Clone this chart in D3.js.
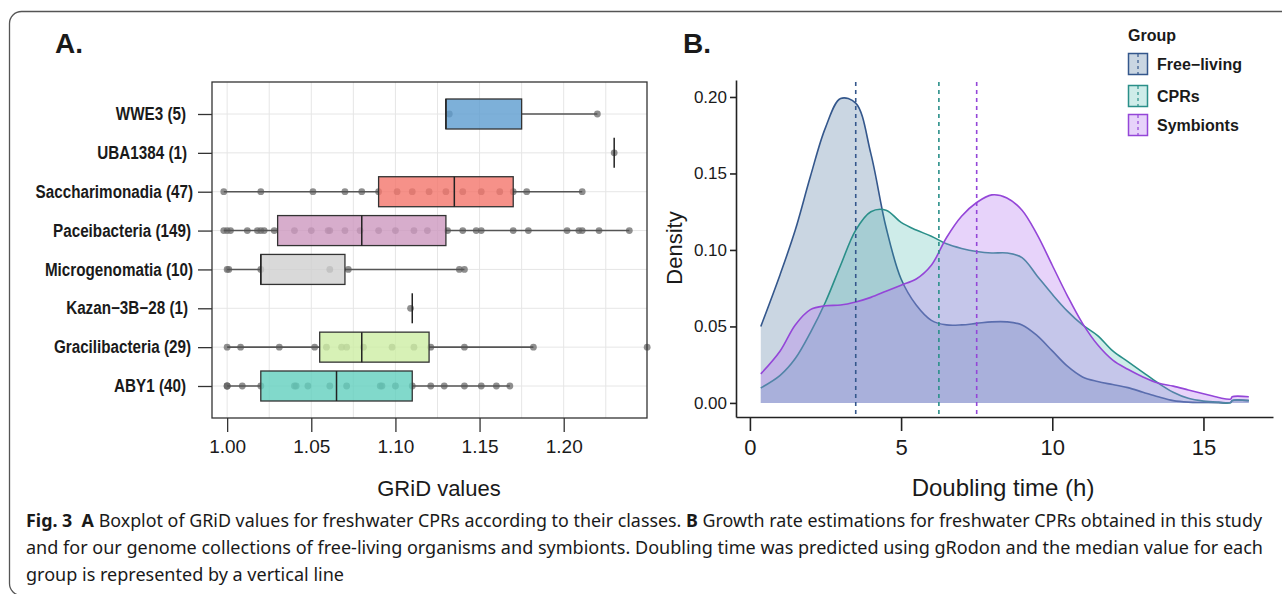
<!DOCTYPE html>
<html>
<head>
<meta charset="utf-8">
<script src="https://cdn.jsdelivr.net/npm/d3@7"></script>
<style>
body { margin: 0; background: #fff; }
text { font-family: "Liberation Sans", Arial, sans-serif; fill: #1a1a1a; }
</style>
</head>
<body>
<svg id="fig" width="1282" height="594"></svg>
<script>
// ---------- panel A: GRiD values per class ----------
var groups = ["WWE3", "UBA1384", "Saccharimonadia", "Paceibacteria", "Microgenomatia", "Kazan−3B−28", "Gracilibacteria", "ABY1"]
var counts = [5, 1, 47, 149, 10, 1, 29, 40]
var q1 = [1.130, 1.230, 1.090, 1.030, 1.020, 1.110, 1.055, 1.020]
var medians = [1.130, 1.230, 1.135, 1.080, 1.020, 1.110, 1.080, 1.065]
var q3 = [1.175, 1.230, 1.170, 1.130, 1.070, 1.110, 1.120, 1.110]
var whiskerLow = [1.130, 1.230, 0.998, 0.998, 1.000, 1.110, 1.000, 1.000]
var whiskerHigh = [1.220, 1.230, 1.211, 1.239, 1.141, 1.110, 1.182, 1.168]
var points = [
    [1.132, 1.220],
    [1.230],
    [0.998, 1.020, 1.051, 1.070, 1.080, 1.090, 1.101, 1.110, 1.120, 1.130, 1.140, 1.151, 1.162, 1.170, 1.178, 1.211],
    [0.998, 1.000, 1.002, 1.012, 1.018, 1.020, 1.022, 1.028, 1.040, 1.050, 1.060, 1.061, 1.070, 1.079, 1.090, 1.100,
     1.111, 1.119, 1.131, 1.140, 1.148, 1.151, 1.170, 1.179, 1.202, 1.209, 1.211, 1.221, 1.239],
    [1.000, 1.001, 1.020, 1.061, 1.072, 1.138, 1.141],
    [1.109],
    [1.000, 1.008, 1.031, 1.052, 1.059, 1.068, 1.071, 1.081, 1.098, 1.111, 1.121, 1.141, 1.182, 1.2496],
    [1.000, 1.000, 1.000, 1.009, 1.020, 1.040, 1.041, 1.048, 1.061, 1.071, 1.091, 1.092, 1.100, 1.110, 1.121, 1.129,
     1.141, 1.151, 1.160, 1.168]
]
var boxColors = ["#5d9ccf", "#5d9ccf", "#f4766b", "#cd98bf", "#cfcfcf", "#999999", "#cdeda4", "#62cfbe"]
var gridTicks = [1.00, 1.05, 1.10, 1.15, 1.20]

// ---------- panel B: doubling time densities ----------
var densGroups = ["Free−living", "CPRs", "Symbionts"]
var doublingTime = [0.36, 1.0, 1.5, 2.0, 2.5, 3.0, 3.5, 4.0, 4.5, 5.0, 5.5, 6.0, 6.5, 7.0, 7.5, 8.0, 8.5, 9.0, 9.5,
    10.0, 10.5, 11.0, 11.5, 12.0, 12.5, 13.0, 13.5, 14.0, 14.5, 15.0, 15.5, 15.9, 15.95, 16.5]
var densFree = [0.050, 0.084, 0.113, 0.148, 0.180, 0.199, 0.196, 0.163, 0.115, 0.081, 0.064, 0.054, 0.051, 0.051, 0.052,
    0.053, 0.053, 0.051, 0.044, 0.034, 0.024, 0.017, 0.014, 0.012, 0.010, 0.007, 0.004, 0.0015, 0.0005, 0.0003, 0.0002,
    0.0002, 0.0015, 0.0015]
var densCPR = [0.0098, 0.018, 0.029, 0.046, 0.066, 0.090, 0.113, 0.125, 0.126, 0.118, 0.113, 0.109, 0.104, 0.101, 0.099,
    0.098, 0.098, 0.095, 0.083, 0.071, 0.060, 0.051, 0.044, 0.034, 0.027, 0.020, 0.013, 0.007, 0.003, 0.0012, 0.0005,
    0.0003, 0.0016, 0.0016]
var densSymb = [0.019, 0.034, 0.051, 0.061, 0.0635, 0.064, 0.066, 0.069, 0.073, 0.077, 0.081, 0.090, 0.108, 0.122, 0.131,
    0.136, 0.134, 0.126, 0.110, 0.090, 0.070, 0.052, 0.038, 0.028, 0.022, 0.017, 0.013, 0.011, 0.0085, 0.006, 0.0035,
    0.0025, 0.004, 0.004]
var medianDoubling = [3.5, 6.25, 7.5]
var lineColors = ["#34578c", "#2a8f89", "#9446d8"]
var fillColors = ["#2c5a8c", "#3bb3a8", "#b06ef0"]
var fillAlpha = [0.25, 0.25, 0.3]

var svg = d3.select("#fig")

// outer frame of the figure
svg.append("rect")
    .attr("x", 9.5).attr("y", 11.5)
    .attr("width", 1310).attr("height", 584)
    .attr("rx", 12)
    .attr("fill", "none")
    .attr("stroke", "#555")
    .attr("stroke-width", 1.3)

// ===== panel A =====
var xA = d3.scaleLinear().domain([0.991, 1.2495]).range([212, 647])
var yA = d3.scalePoint().domain(groups).range([114, 386])
var pA = { left: 212, right: 647, top: 82, bottom: 418 }

svg.append("text").text("A.")
    .attr("x", 55).attr("y", 53)
    .style("font-size", "28px").style("font-weight", "bold")

var gA = svg.append("g")

// grid (major + minor)
var minor = [1.025, 1.075, 1.125, 1.175, 1.225]
gA.selectAll(".vgrid")
    .data(gridTicks.concat(minor))
    .enter().append("line")
    .attr("x1", d => xA(d)).attr("x2", d => xA(d))
    .attr("y1", pA.top).attr("y2", pA.bottom)
    .attr("stroke", "#e6e6e6")
    .attr("stroke-width", 1)
gA.selectAll(".hgrid")
    .data(groups)
    .enter().append("line")
    .attr("x1", pA.left).attr("x2", pA.right)
    .attr("y1", d => yA(d)).attr("y2", d => yA(d))
    .attr("stroke", "#e6e6e6")
    .attr("stroke-width", 1)

// jittered points (under the boxes)
groups.forEach(function (g, i) {
    gA.selectAll(".pt" + i)
        .data(points[i])
        .enter().append("circle")
        .attr("cx", d => xA(d))
        .attr("cy", yA(g))
        .attr("r", 3.4)
        .attr("fill", "#6a6a6a")
        .attr("fill-opacity", 0.75)
})

// boxes
var boxH = 30
groups.forEach(function (g, i) {
    var y = yA(g)
    gA.append("line")
        .attr("x1", xA(whiskerLow[i])).attr("x2", xA(q1[i]))
        .attr("y1", y).attr("y2", y)
        .attr("stroke", "#555").attr("stroke-width", 1.6)
    gA.append("line")
        .attr("x1", xA(q3[i])).attr("x2", xA(whiskerHigh[i]))
        .attr("y1", y).attr("y2", y)
        .attr("stroke", "#555").attr("stroke-width", 1.6)
    gA.append("rect")
        .attr("x", xA(q1[i]))
        .attr("y", y - boxH / 2)
        .attr("width", xA(q3[i]) - xA(q1[i]))
        .attr("height", boxH)
        .attr("fill", boxColors[i])
        .attr("fill-opacity", 0.8)
        .attr("stroke", "#333")
        .attr("stroke-width", 1.3)
    gA.append("line")
        .attr("x1", xA(medians[i])).attr("x2", xA(medians[i]))
        .attr("y1", y - boxH / 2).attr("y2", y + boxH / 2)
        .attr("stroke", "#222").attr("stroke-width", 1.5)
})

// panel border
gA.append("rect")
    .attr("x", pA.left).attr("y", pA.top)
    .attr("width", pA.right - pA.left).attr("height", pA.bottom - pA.top)
    .attr("fill", "none")
    .attr("stroke", "#333")
    .attr("stroke-width", 1.3)

// axes
var axA = svg.append("g")
    .attr("transform", "translate(0," + pA.bottom + ")")
    .call(d3.axisBottom(xA).tickValues(gridTicks).tickFormat(d3.format(".2f")).tickSize(14).tickPadding(8))
axA.select(".domain").remove()
axA.selectAll("line").attr("stroke", "#333").attr("stroke-width", 1.3)
axA.selectAll("text").style("font-size", "19px").attr("fill", "#222")

var labelsA = groups.map((g, i) => g + " (" + counts[i] + ")")
var ayA = svg.append("g")
    .attr("transform", "translate(" + pA.left + ",0)")
    .call(d3.axisLeft(yA).tickFormat((d, i) => labelsA[i]).tickSize(14).tickPadding(5))
ayA.select(".domain").remove()
ayA.selectAll("line").attr("stroke", "#333").attr("stroke-width", 1.3)
ayA.selectAll("text")
    .style("font-size", "17.5px").style("font-weight", "bold").attr("fill", "#111")
    .attr("dx", (d, i) => [-7, -6, 0, -2, 0, -5, -2, -7][i])
    .each(function () {
        // the original uses a narrow bold face
        var w = this.getComputedTextLength()
        d3.select(this).attr("textLength", w * 0.87).attr("lengthAdjust", "spacingAndGlyphs")
    })

svg.append("text").text("GRiD values")
    .attr("x", 439).attr("y", 496)
    .attr("text-anchor", "middle")
    .style("font-size", "22px")

// ===== panel B =====
var xB = d3.scaleLinear().domain([-0.46, 17.3]).range([736, 1273])
var yB = d3.scaleLinear().domain([-0.0092, 0.2111]).range([417, 80])

svg.append("text").text("B.")
    .attr("x", 683).attr("y", 53)
    .style("font-size", "28px").style("font-weight", "bold")

var series = [densFree, densCPR, densSymb]
var area = d3.area()
    .x((d, i) => xB(doublingTime[i]))
    .y0(yB(0))
    .y1(d => yB(d))
    .curve(d3.curveCatmullRom.alpha(0.5))
var line = d3.line()
    .x((d, i) => xB(doublingTime[i]))
    .y(d => yB(d))
    .curve(d3.curveCatmullRom.alpha(0.5))

var gB = svg.append("g")
series.forEach(function (s, k) {
    gB.append("path")
        .attr("d", area(s))
        .attr("fill", fillColors[k])
        .attr("fill-opacity", fillAlpha[k])
    gB.append("path")
        .attr("d", line(s))
        .attr("fill", "none")
        .attr("stroke", lineColors[k])
        .attr("stroke-width", 1.6)
})

// median lines
gB.selectAll(".med")
    .data(medianDoubling)
    .enter().append("line")
    .attr("x1", d => xB(d)).attr("x2", d => xB(d))
    .attr("y1", 82).attr("y2", 417)
    .attr("stroke", (d, i) => lineColors[i])
    .attr("stroke-width", 1.6)
    .attr("stroke-dasharray", "4,4")

var axB = svg.append("g")
    .attr("transform", "translate(0,417)")
    .call(d3.axisBottom(xB).tickValues([0, 5, 10, 15]).tickSize(14).tickSizeOuter(0).tickPadding(8))
axB.select(".domain").attr("stroke", "#222").attr("stroke-width", 1.6)
axB.selectAll("line").attr("stroke", "#222").attr("stroke-width", 1.6)
axB.selectAll("text").style("font-size", "22px").attr("fill", "#222")

var ayB = svg.append("g")
    .attr("transform", "translate(736,0)")
    .call(d3.axisLeft(yB).tickValues([0, 0.05, 0.1, 0.15, 0.2]).tickFormat(d3.format(".2f")).tickSize(6).tickSizeOuter(0).tickPadding(3))
ayB.select(".domain").attr("stroke", "#222").attr("stroke-width", 1.6)
ayB.selectAll("line").attr("stroke", "#222").attr("stroke-width", 1.6)
ayB.selectAll("text").style("font-size", "17px").attr("fill", "#222")

svg.append("text").text("Doubling time (h)")
    .attr("x", 1003).attr("y", 496)
    .attr("text-anchor", "middle")
    .style("font-size", "24px")

svg.append("text").text("Density")
    .attr("transform", "translate(682,248) rotate(-90)")
    .attr("text-anchor", "middle")
    .style("font-size", "22px")

// legend
var lg = svg.append("g").attr("transform", "translate(1128,0)")
lg.append("text").text("Group")
    .attr("x", 0).attr("y", 41)
    .style("font-size", "16px").style("font-weight", "bold")
var keyY = [64, 96, 125]
densGroups.forEach(function (g, k) {
    var key = lg.append("g").attr("transform", "translate(0," + keyY[k] + ")")
    key.append("rect")
        .attr("x", 0.5).attr("y", -10.5)
        .attr("width", 19).attr("height", 21)
        .attr("fill", "#fff")
    key.append("rect")
        .attr("x", 0.5).attr("y", -10.5)
        .attr("width", 19).attr("height", 21)
        .attr("fill", fillColors[k]).attr("fill-opacity", fillAlpha[k])
        .attr("stroke", lineColors[k]).attr("stroke-width", 1.5)
    key.append("line")
        .attr("x1", 10).attr("x2", 10).attr("y1", -10).attr("y2", 10)
        .attr("stroke", lineColors[k]).attr("stroke-width", 1.2)
        .attr("stroke-dasharray", "3,3")
    key.append("text").text(g)
        .attr("x", 29).attr("y", 6)
        .style("font-size", "16px").style("font-weight", "bold")
})

// caption: each run is its own text, laid out left to right and fitted to the original line widths
var capLines = [
    [["Fig. 3", true], ["  ", false], ["A", true], [" Boxplot of GRiD values for freshwater CPRs according to their classes. ", false],
     ["B", true], [" Growth rate estimations for freshwater CPRs obtained in this study", false]],
    [["and for our genome collections of free-living organisms and symbionts. Doubling time was predicted using gRodon and the median value for each", false]],
    [["group is represented by a vertical line", false]]
]
var capY = [527, 554, 581]
var capWidth = [1236, 1237, null]
var capRuns = capLines.map(function (parts, li) {
    return parts.map(function (p) {
        var t = svg.append("text")
            .attr("y", capY[li])
            .attr("xml:space", "preserve")
            .style("font-family", "'Noto Sans', 'Open Sans', sans-serif")
            .style("font-size", "18px")
            .style("font-weight", p[1] ? "bold" : "normal")
            .attr("fill", "#111")
            .text(p[0])
        return { node: t, w: t.node().getComputedTextLength() }
    })
})
var lineW = capRuns.map(r => d3.sum(r, d => d.w))
var ratio = capWidth[1] / lineW[1]
capRuns.forEach(function (runs, li) {
    var k = capWidth[li] ? capWidth[li] / lineW[li] : ratio
    var x = 26
    runs.forEach(function (r) {
        r.node.attr("x", x)
        if (r.p !== "") r.node.attr("textLength", r.w * k).attr("lengthAdjust", "spacingAndGlyphs")
        x += r.w * k
    })
})
</script>
</body>
</html>
